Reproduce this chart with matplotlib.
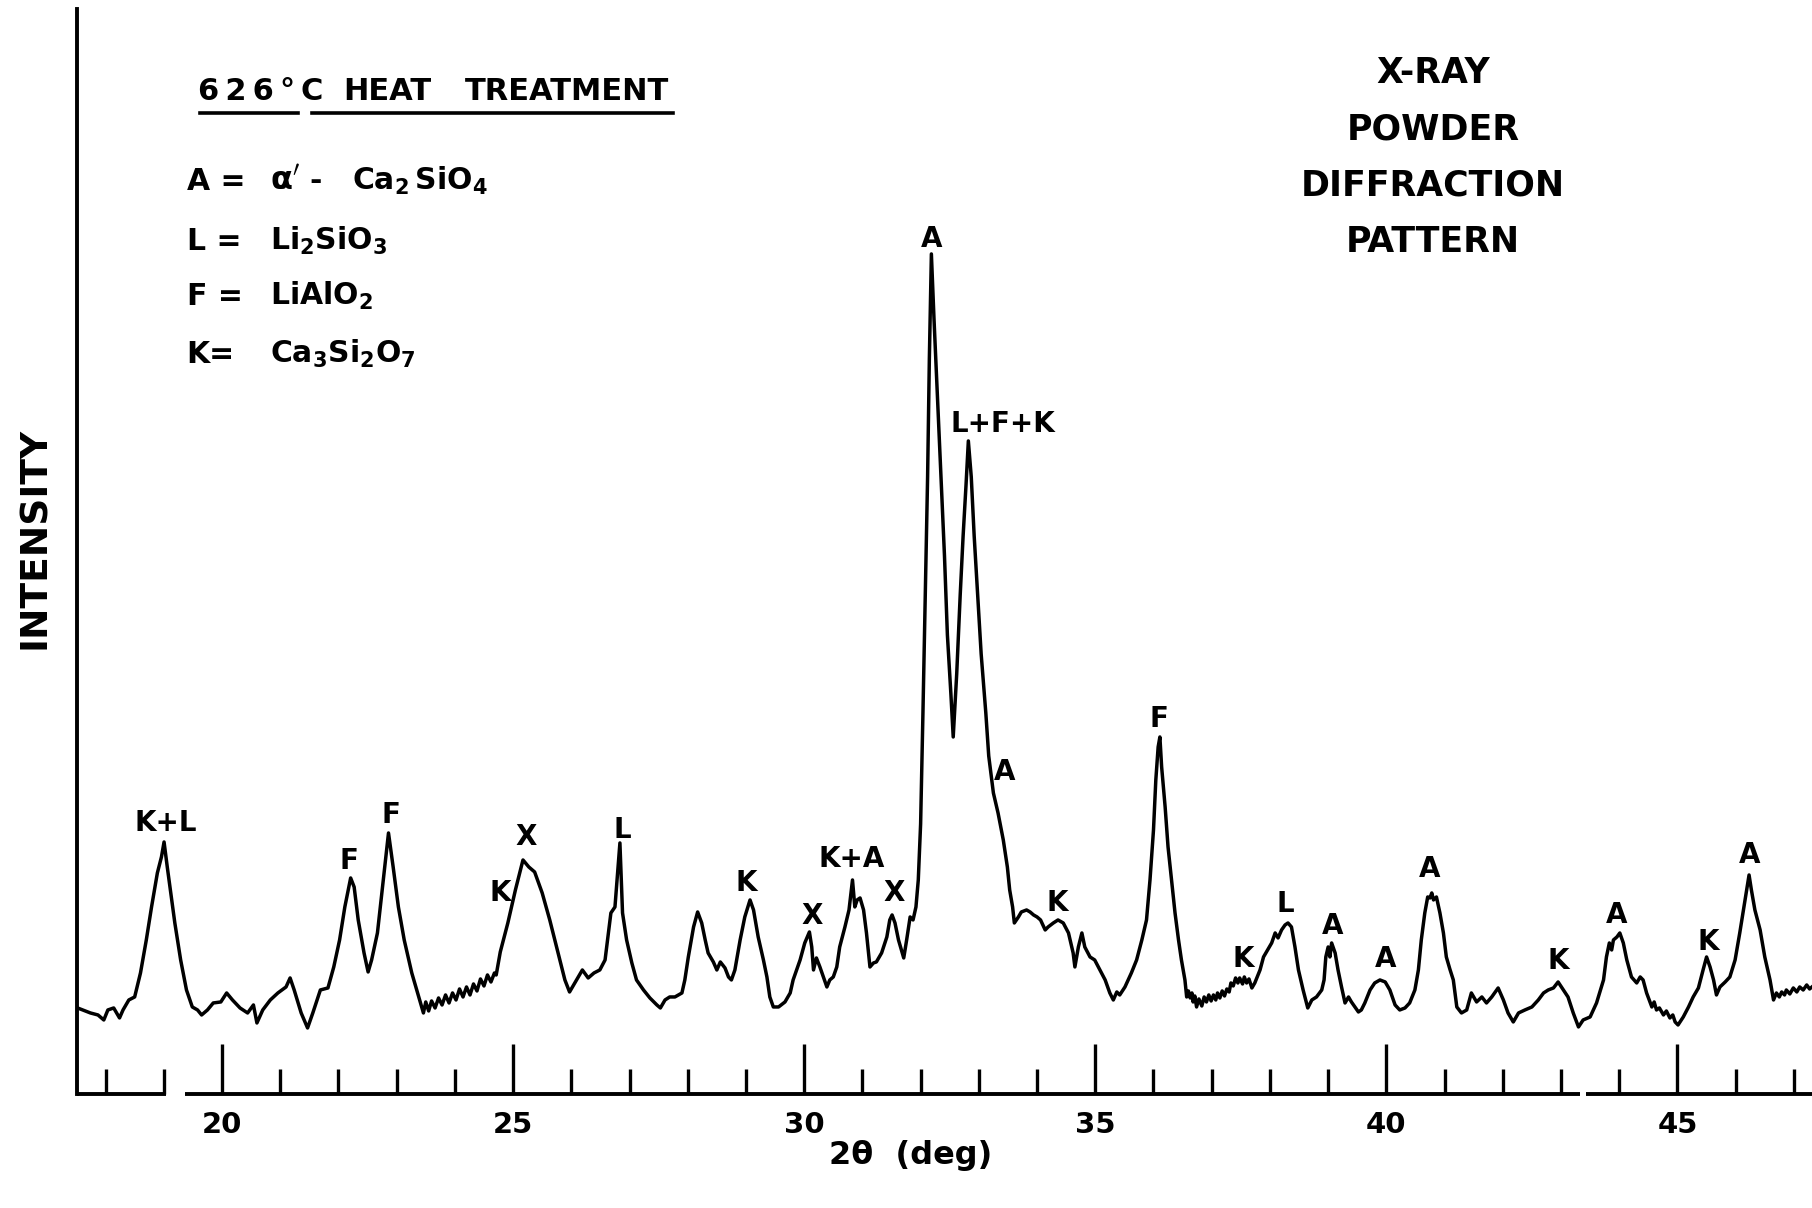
import matplotlib.pyplot as plt
from matplotlib.ticker import MultipleLocator
import numpy as np

plt.rcParams['font.family'] = 'DejaVu Sans'
plt.rcParams['font.weight'] = 'bold'
plt.rcParams['mathtext.default'] = 'bf'

# diffractometer trace, 2-theta (deg) and intensity (arbitrary units)
two_theta = np.array([
    17.52, 17.61, 17.74, 17.87, 17.97, 18.04, 18.14, 18.24, 18.30, 18.40,
    18.50, 18.60, 18.70, 18.79, 18.89, 18.96, 19.005, 19.06, 19.12, 19.19,
    19.29, 19.39, 19.49, 19.58, 19.65, 19.75, 19.85, 19.98, 20.08, 20.18,
    20.31, 20.44, 20.54, 20.60, 20.70, 20.83, 20.96, 21.10, 21.17, 21.24,
    21.36, 21.47, 21.56, 21.69, 21.82, 21.92, 22.02, 22.11, 22.21, 22.27,
    22.34, 22.44, 22.51, 22.57, 22.67, 22.77, 22.86, 22.94, 23.03, 23.13,
    23.26, 23.36, 23.46, 23.50, 23.55, 23.60, 23.66, 23.72, 23.78, 23.84,
    23.90, 23.96, 24.02, 24.08, 24.14, 24.20, 24.26, 24.32, 24.38, 24.44,
    24.50, 24.56, 24.62, 24.68, 24.71, 24.78, 24.91, 25.04, 25.17, 25.27,
    25.37, 25.50, 25.63, 25.76, 25.89, 25.97, 26.09, 26.19, 26.29, 26.39,
    26.49, 26.58, 26.68, 26.75, 26.835, 26.88, 26.95, 27.04, 27.12, 27.24,
    27.35, 27.47, 27.53, 27.61, 27.69, 27.78, 27.90, 27.95, 28.01, 28.10,
    28.17, 28.24, 28.30, 28.35, 28.44, 28.50, 28.56, 28.64, 28.70, 28.75,
    28.81, 28.90, 28.98, 29.07, 29.13, 29.21, 29.30, 29.36, 29.41, 29.47,
    29.56, 29.67, 29.76, 29.81, 29.93, 30.01, 30.09, 30.13, 30.16, 30.21,
    30.27, 30.33, 30.39, 30.44, 30.50, 30.56, 30.61, 30.70, 30.77, 30.83,
    30.87, 30.91, 30.96, 31.02, 31.07, 31.13, 31.19, 31.24, 31.33, 31.42,
    31.47, 31.51, 31.56, 31.62, 31.67, 31.71, 31.76, 31.82, 31.87, 31.92,
    31.96, 32.00, 32.04, 32.08, 32.12, 32.15, 32.185, 32.23, 32.29, 32.35,
    32.41, 32.46, 32.52, 32.56, 32.62, 32.68, 32.73, 32.78, 32.82, 32.87,
    32.92, 32.98, 33.04, 33.12, 33.17, 33.25, 33.33, 33.42, 33.49, 33.53,
    33.58, 33.61, 33.68, 33.73, 33.82, 33.88, 33.94, 34.00, 34.06, 34.14,
    34.19, 34.28, 34.36, 34.45, 34.54, 34.62, 34.65, 34.71, 34.77, 34.82,
    34.91, 34.99, 35.08, 35.17, 35.25, 35.31, 35.37, 35.42, 35.51, 35.62,
    35.71, 35.80, 35.88, 35.94, 36.00, 36.04, 36.08, 36.11, 36.14, 36.20,
    36.25, 36.31, 36.37, 36.43, 36.48, 36.54, 36.57, 36.60, 36.63, 36.66,
    36.68, 36.71, 36.74, 36.78, 36.83, 36.87, 36.91, 36.95, 36.99, 37.03,
    37.07, 37.10, 37.14, 37.18, 37.22, 37.26, 37.30, 37.33, 37.37, 37.41,
    37.45, 37.48, 37.53, 37.56, 37.60, 37.64, 37.69, 37.74, 37.83, 37.89,
    37.94, 38.03, 38.09, 38.14, 38.20, 38.26, 38.31, 38.37, 38.43, 38.49,
    38.57, 38.65, 38.72, 38.80, 38.89, 38.93, 38.96, 39.00, 39.03, 39.06,
    39.12, 39.17, 39.23, 39.29, 39.35, 39.40, 39.46, 39.52, 39.57, 39.63,
    39.72, 39.80, 39.89, 39.98, 40.06, 40.15, 40.23, 40.32, 40.40, 40.49,
    40.55, 40.60, 40.66, 40.71, 40.75, 40.78, 40.81, 40.86, 40.92, 40.98,
    41.03, 41.09, 41.15, 41.21, 41.29, 41.38, 41.46, 41.55, 41.64, 41.72,
    41.81, 41.92, 42.01, 42.09, 42.18, 42.27, 42.38, 42.50, 42.61, 42.70,
    42.78, 42.87, 42.95, 43.04, 43.12, 43.21, 43.30, 43.38, 43.50, 43.61,
    43.73, 43.78, 43.83, 43.87, 43.90, 43.96, 44.01, 44.07, 44.13, 44.21,
    44.30, 44.36, 44.41, 44.47, 44.56, 44.60, 44.64, 44.69, 44.76, 44.81,
    44.87, 44.92, 44.96, 45.01, 45.10, 45.19, 45.27, 45.36, 45.44, 45.50,
    45.56, 45.62, 45.67, 45.73, 45.82, 45.90, 45.99, 46.07, 46.16, 46.23,
    46.27, 46.33, 46.42, 46.50, 46.59, 46.65, 46.70, 46.75, 46.79, 46.84,
    46.87, 46.93, 46.99, 47.05, 47.10, 47.16, 47.22, 47.27, 47.31,
])
intensity = np.array([
    8.6, 8.4, 8.1, 7.9, 7.4, 8.4, 8.6, 7.6, 8.4, 9.4,
    9.7, 12.1, 15.4, 18.7, 22.1, 23.7, 25.2, 22.7, 20.1, 17.1,
    13.4, 10.4, 8.7, 8.4, 7.9, 8.4, 9.1, 9.2, 10.1, 9.4,
    8.6, 8.1, 8.9, 7.1, 8.4, 9.4, 10.1, 10.7, 11.6, 10.4,
    8.1, 6.6, 8.1, 10.4, 10.6, 12.7, 15.4, 18.7, 21.6, 20.7,
    17.4, 14.1, 12.2, 13.4, 16.1, 21.4, 26.1, 22.7, 18.7, 15.4,
    12.1, 10.1, 8.1, 9.2, 8.3, 9.3, 8.6, 9.6, 8.9, 9.9,
    9.1, 10.1, 9.4, 10.5, 9.7, 10.7, 9.9, 11.0, 10.3, 11.5,
    10.8, 11.9, 11.2, 12.1, 11.9, 14.2, 17.1, 20.4, 23.4, 22.7,
    22.2, 20.1, 17.4, 14.4, 11.4, 10.2, 11.4, 12.4, 11.6, 12.1,
    12.4, 13.4, 18.1, 18.7, 25.1, 18.1, 15.4, 13.1, 11.4, 10.4,
    9.6, 8.9, 8.6, 9.4, 9.7, 9.7, 10.1, 11.4, 13.7, 16.7,
    18.2, 17.1, 15.4, 14.1, 13.2, 12.4, 13.2, 12.6, 11.7, 11.4,
    12.4, 15.4, 17.7, 19.4, 18.4, 15.7, 13.4, 11.7, 9.7, 8.7,
    8.7, 9.2, 10.1, 11.4, 13.4, 15.1, 16.2, 14.7, 12.4, 13.6,
    12.7, 11.7, 10.7, 11.4, 11.7, 12.7, 14.7, 16.7, 18.4, 21.4,
    18.7, 19.4, 19.6, 18.4, 16.1, 12.7, 13.1, 13.2, 14.1, 15.7,
    17.4, 17.9, 17.1, 15.4, 14.4, 13.6, 15.4, 17.7, 17.4, 18.7,
    21.4, 27.0, 38.1, 49.9, 61.7, 73.5, 84.0, 77.5, 69.6, 61.7,
    53.8, 45.9, 40.0, 35.7, 42.0, 49.9, 55.8, 60.9, 65.3, 61.7,
    55.8, 49.9, 44.0, 38.1, 33.8, 30.1, 28.1, 25.4, 22.7, 20.4,
    18.7, 17.1, 17.7, 18.2, 18.4, 18.2, 17.9, 17.7, 17.4, 16.4,
    16.7, 17.1, 17.4, 17.1, 16.1, 14.1, 12.7, 14.7, 16.1, 14.7,
    13.7, 13.4, 12.4, 11.4, 10.1, 9.4, 10.2, 9.9, 10.7, 12.1,
    13.4, 15.4, 17.4, 21.4, 26.4, 31.4, 34.7, 35.7, 32.7, 28.7,
    24.7, 21.4, 18.1, 15.4, 13.4, 11.4, 9.7, 10.3, 9.6, 10.1,
    9.2, 9.8, 8.7, 9.5, 8.8, 9.7, 9.2, 9.9, 9.3, 9.9,
    9.4, 10.1, 9.6, 10.3, 9.8, 10.5, 10.2, 11.1, 10.8, 11.6,
    11.1, 11.6, 11.0, 11.7, 11.1, 11.5, 10.6, 11.1, 12.4, 13.7,
    14.2, 15.1, 16.1, 15.6, 16.4, 16.9, 17.1, 16.7, 14.7, 12.4,
    10.4, 8.6, 9.4, 9.7, 10.4, 11.4, 13.7, 14.7, 13.7, 15.1,
    14.1, 12.4, 10.7, 9.1, 9.7, 9.2, 8.7, 8.2, 8.4, 9.1,
    10.4, 11.1, 11.4, 11.2, 10.4, 8.9, 8.4, 8.6, 9.1, 10.4,
    12.4, 15.4, 18.1, 19.7, 19.6, 20.1, 19.4, 19.7, 18.1, 16.1,
    13.7, 12.5, 11.4, 8.7, 8.1, 8.4, 10.1, 9.2, 9.7, 9.1,
    9.7, 10.6, 9.4, 8.1, 7.2, 8.1, 8.4, 8.7, 9.4, 10.1,
    10.4, 10.6, 11.2, 10.4, 9.7, 8.1, 6.7, 7.4, 7.7, 9.1,
    11.4, 13.7, 15.1, 14.4, 15.4, 15.7, 16.1, 15.1, 13.4, 11.7,
    11.1, 11.7, 11.4, 10.1, 8.7, 9.2, 8.4, 8.6, 7.9, 8.3,
    7.6, 7.9, 7.2, 6.9, 7.7, 8.7, 9.7, 10.6, 12.4, 13.7,
    12.7, 11.4, 9.9, 10.7, 11.2, 11.7, 13.4, 16.1, 19.4, 21.9,
    20.4, 18.4, 16.4, 13.7, 11.4, 9.4, 10.1, 9.7, 10.2, 9.9,
    10.4, 10.0, 10.6, 10.2, 10.7, 10.4, 10.9, 10.5, 10.7,
])

# phase identification of the peaks
peak_names = ['K+L', 'F', 'F', 'K', 'X', 'L', 'K', 'X', 'K+A', 'X', 'A',
              'L+F+K', 'A', 'K', 'F', 'K', 'L', 'A', 'A', 'A', 'K', 'A', 'K', 'A']
peak_angles = [19.03, 22.18, 22.90, 24.78, 25.22, 26.87, 29.01, 30.14, 30.82,
               31.55, 32.19, 33.42, 33.44, 34.35, 36.10, 37.55, 38.26, 39.07,
               39.99, 40.74, 42.96, 43.96, 45.53, 46.24]
peak_heights = [27.1, 23.3, 27.9, 20.1, 25.7, 26.4, 21.1, 17.8, 23.5, 20.1, 85.5,
                67.0, 32.2, 19.1, 37.5, 13.5, 19.0, 16.8, 13.5, 22.5, 13.3, 17.9,
                15.2, 23.9]

phase_keys = ['A =', 'L =', 'F =', 'K=']
phase_formulas = [r'$Ca_2\,SiO_4$', r'$Li_2SiO_3$', r'$LiAlO_2$',
                  r'$Ca_3Si_2O_7$']
formula_x = [0.1943, 0.149, 0.149, 0.149]
phase_rows = [0.8427, 0.7930, 0.7475, 0.6995]

fig = plt.figure(figsize=(18.12, 12.08), dpi=100)
ax = fig.add_axes([0.0427, 0.0944, 0.9573, 0.8982])

ax.plot(two_theta, intensity, color='black', lw=2.5, solid_joinstyle='round')

ax.set_xlim(17.516, 47.311)
ax.set_ylim(0, 108.5)

for side in ['top', 'right', 'bottom']:
    ax.spines[side].set_visible(False)
ax.spines['left'].set_linewidth(2.8)

# the base line is broken in two places on the chart paper
ax.hlines([0, 0, 0], [17.516, 19.36, 43.43], [19.04, 43.32, 47.311],
          color='black', lw=2.8, clip_on=False)

ax.xaxis.set_major_locator(MultipleLocator(5))
ax.xaxis.set_minor_locator(MultipleLocator(1))
ax.tick_params(axis='x', which='major', direction='in', length=36, width=2.4,
               pad=12, labelsize=21)
ax.tick_params(axis='x', which='minor', direction='in', length=18, width=2.4)
ax.tick_params(axis='y', left=False, labelleft=False)

for name, x, y in zip(peak_names, peak_angles, peak_heights):
    ax.text(x, y, name, ha='center', va='center', fontsize=20)

fig.text(0.5025, 0.0434, '2θ  (deg)', ha='center', va='center', fontsize=23)
fig.text(0.0192, 0.555, 'INTENSITY', rotation=90, ha='center', va='center',
         fontsize=27)

# header, underlined in two pieces
for word, x in zip(['6\u20092\u20096\u2009°', 'C', 'HEAT', 'TREATMENT'],
                   [0.1093, 0.1656, 0.1893, 0.2566]):
    fig.text(x, 0.9172, word, ha='left', va='baseline', fontsize=22)
fig.add_artist(plt.Line2D([0.1104, 0.1645], [0.9065, 0.9065], color='black', lw=2.6))
fig.add_artist(plt.Line2D([0.1722, 0.3714], [0.9065, 0.9065], color='black', lw=2.6))

# phase key
for key, formula, x, y in zip(phase_keys, phase_formulas, formula_x, phase_rows):
    fig.text(0.1030, y, key, ha='left', va='baseline', fontsize=21.5)
    fig.text(x, y, formula, ha='left', va='baseline', fontsize=21.5)
fig.text(0.149, phase_rows[0], r"$\alpha'$", ha='left', va='baseline', fontsize=23)
fig.text(0.171, phase_rows[0], '-', ha='left', va='baseline', fontsize=21.5)

for i, word in enumerate(['X-RAY', 'POWDER', 'DIFFRACTION', 'PATTERN']):
    fig.text(0.7908, 0.9397 - i * 0.0468, word, ha='center', va='center',
             fontsize=25)

fig.savefig('out.png', dpi=100, facecolor='white')
